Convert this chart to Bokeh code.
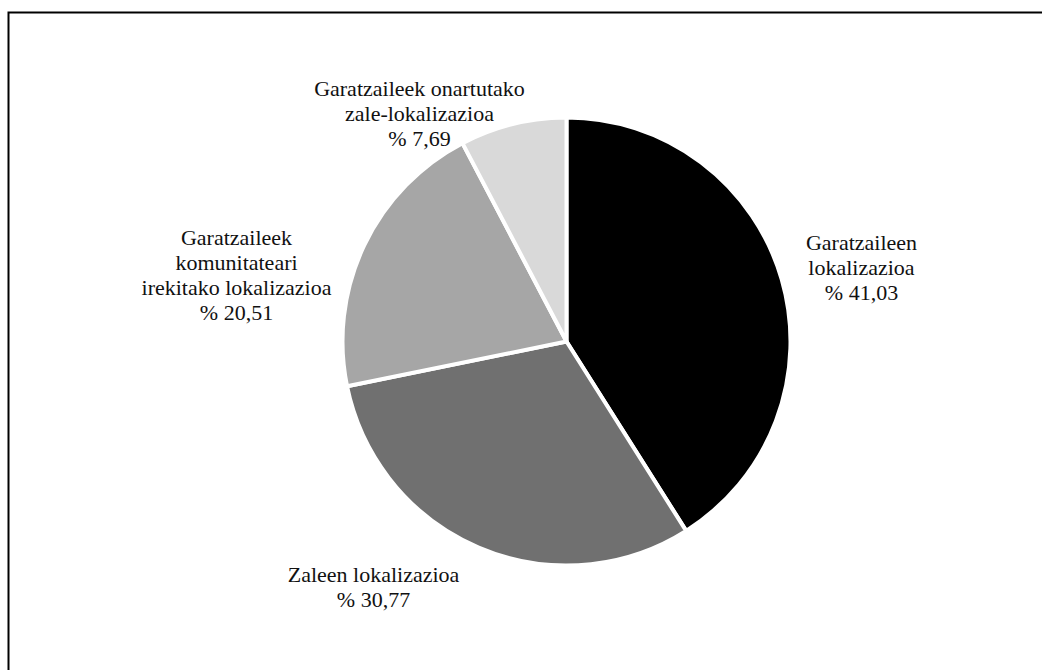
import numpy as np
from bokeh.plotting import figure
from bokeh.models import Range1d, ColumnDataSource
from bokeh.core.properties import value
from bokeh.embed import file_html
from bokeh.resources import INLINE

# ---- data ----
categories = [
    "Garatzaileen\nlokalizazioa",
    "Zaleen lokalizazioa",
    "Garatzaileek\nkomunitateari\nirekitako lokalizazioa",
    "Garatzaileek onartutako\nzale-lokalizazioa",
]
percentages = [41.03, 30.77, 20.51, 7.69]
colors = ["#000000", "#707070", "#a6a6a6", "#d9d9d9"]

# ---- layout (pixels) ----
W, H = 1042, 670
O = 0.0                     # page offset of figure origin
CX, CY = 566, 341           # pie centre in page pixels
R = 224
label_offsets = [(295, 74), (-193, -245), (-330, 67), (-147, 228)]

p = figure(width=W, height=H, output_backend="svg", toolbar_location=None,
           x_range=Range1d(O - CX, O + W - CX), y_range=Range1d(CY - (O + H), CY - O),
           min_border=0, outline_line_color=None)
p.axis.visible = False
p.grid.visible = False
p.background_fill_color = "white"

frac = np.array(percentages) / np.sum(percentages)
cum = np.concatenate([[0], np.cumsum(frac)])
start = np.pi / 2 - 2 * np.pi * cum[:-1]
end = np.pi / 2 - 2 * np.pi * cum[1:]

src = ColumnDataSource(dict(start=start, end=end, color=colors))
p.wedge(x=0, y=0, radius=R, start_angle="start", end_angle="end", direction="clock",
        fill_color="color", line_color="white", line_width=4, source=src)

labels = [f"{c}\n% {v:.2f}".replace(".", ",") for c, v in zip(categories, percentages)]
lsrc = ColumnDataSource(dict(x=[o[0] for o in label_offsets], y=[o[1] for o in label_offsets], text=labels))
p.text(x="x", y="y", text="text", source=lsrc, text_align="center", text_baseline="middle",
       text_font=value("Liberation Serif"), text_font_size="22px", text_color="#111111",
       text_line_height=1.0)

# frame lines (top and left only, meeting at the corner)
fx, fy = 8 - CX, CY - 12
p.line(x=[fx, fx, W + 10 - CX], y=[CY - H - 10, fy, fy], line_color="black",
       line_width=2, line_join="miter")

open("out.html", "w").write(file_html(p, INLINE))
